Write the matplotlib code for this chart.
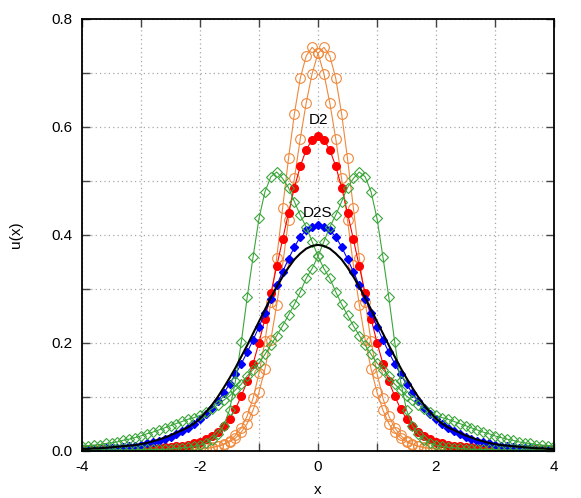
import numpy as np
import matplotlib
matplotlib.use("Agg")
import matplotlib.pyplot as plt

plt.rcParams["font.family"] = ["Liberation Sans", "DejaVu Sans"]

# sample grid, x = -4.0 ... 4.0 in steps of 0.1
x = np.round(np.arange(-40, 41) / 10.0, 1)

exact = [
    0.003, 0.003, 0.004, 0.004, 0.005, 0.006, 0.007, 0.008, 0.009, 0.010,
    0.012, 0.014, 0.017, 0.020, 0.024, 0.028, 0.033, 0.038, 0.043, 0.050,
    0.059, 0.071, 0.084, 0.099, 0.116, 0.134, 0.153, 0.174, 0.195, 0.217,
    0.239, 0.261, 0.283, 0.303, 0.322, 0.339, 0.354, 0.365, 0.374, 0.379,
    0.381,
    0.379, 0.374, 0.365, 0.354, 0.339, 0.322, 0.303, 0.283, 0.261, 0.239,
    0.217, 0.195, 0.174, 0.153, 0.134, 0.116, 0.099, 0.084, 0.071, 0.059,
    0.050, 0.043, 0.038, 0.033, 0.028, 0.024, 0.020, 0.017, 0.014, 0.012,
    0.010, 0.009, 0.008, 0.007, 0.006, 0.005, 0.004, 0.004, 0.003, 0.003,
]

d2s = [
    0.002, 0.002, 0.003, 0.003, 0.004, 0.004, 0.005, 0.006, 0.008, 0.009,
    0.011, 0.013, 0.015, 0.018, 0.021, 0.025, 0.030, 0.036, 0.042, 0.049,
    0.058, 0.068, 0.079, 0.092, 0.106, 0.123, 0.141, 0.161, 0.182, 0.205,
    0.229, 0.255, 0.281, 0.306, 0.331, 0.355, 0.377, 0.396, 0.408, 0.415,
    0.418,
    0.415, 0.408, 0.396, 0.377, 0.355, 0.331, 0.306, 0.281, 0.255, 0.229,
    0.205, 0.182, 0.161, 0.141, 0.123, 0.106, 0.092, 0.079, 0.068, 0.058,
    0.049, 0.042, 0.036, 0.030, 0.025, 0.021, 0.018, 0.015, 0.013, 0.011,
    0.009, 0.008, 0.006, 0.005, 0.004, 0.004, 0.003, 0.003, 0.002, 0.002,
]

d2 = [
    0.002, 0.002, 0.002, 0.002, 0.002, 0.002, 0.003, 0.003, 0.003, 0.003,
    0.004, 0.004, 0.005, 0.005, 0.006, 0.007, 0.008, 0.009, 0.011, 0.013,
    0.016, 0.021, 0.027, 0.035, 0.045, 0.059, 0.077, 0.101, 0.128, 0.161,
    0.200, 0.244, 0.291, 0.341, 0.391, 0.440, 0.487, 0.527, 0.557, 0.576,
    0.582,
    0.576, 0.557, 0.527, 0.487, 0.440, 0.391, 0.341, 0.291, 0.244, 0.200,
    0.161, 0.128, 0.101, 0.077, 0.059, 0.045, 0.035, 0.027, 0.021, 0.016,
    0.013, 0.011, 0.009, 0.008, 0.007, 0.006, 0.005, 0.005, 0.004, 0.004,
    0.003, 0.003, 0.003, 0.003, 0.002, 0.002, 0.002, 0.002, 0.002, 0.002,
]

# orange open circles: two runs, peak just right / just left of 0
orange_r = [
    0.001, 0.001, 0.001, 0.001, 0.001, 0.001, 0.001, 0.001, 0.001, 0.001,
    0.001, 0.001, 0.001, 0.001, 0.001, 0.002, 0.002, 0.002, 0.002, 0.002,
    0.003, 0.004, 0.006, 0.008, 0.011, 0.016, 0.023, 0.034, 0.050, 0.075,
    0.108, 0.151, 0.205, 0.270, 0.343, 0.427, 0.504, 0.578, 0.644, 0.698,
    0.736,
    0.747, 0.731, 0.690, 0.624, 0.541, 0.449, 0.357, 0.275, 0.202, 0.143,
    0.097, 0.064, 0.042, 0.028, 0.018, 0.012, 0.008, 0.005, 0.004, 0.003,
    0.002, 0.002, 0.002, 0.002, 0.002, 0.001, 0.001, 0.001, 0.001, 0.001,
    0.001, 0.001, 0.001, 0.001, 0.001, 0.001, 0.001, 0.001, 0.001, 0.001,
]
orange_l = [
    0.001, 0.001, 0.001, 0.001, 0.001, 0.001, 0.001, 0.001, 0.001, 0.001,
    0.001, 0.001, 0.001, 0.001, 0.001, 0.002, 0.002, 0.002, 0.002, 0.002,
    0.003, 0.004, 0.005, 0.008, 0.012, 0.018, 0.028, 0.042, 0.064, 0.097,
    0.143, 0.202, 0.275, 0.357, 0.449, 0.541, 0.624, 0.690, 0.731, 0.747,
    0.736,
    0.698, 0.644, 0.578, 0.504, 0.427, 0.343, 0.270, 0.205, 0.151, 0.108,
    0.075, 0.050, 0.034, 0.023, 0.016, 0.011, 0.008, 0.006, 0.004, 0.003,
    0.002, 0.002, 0.002, 0.002, 0.002, 0.001, 0.001, 0.001, 0.001, 0.001,
    0.001, 0.001, 0.001, 0.001, 0.001, 0.001, 0.001, 0.001, 0.001, 0.001,
]

# green open diamonds: two runs, peaks near +0.7 and -0.7
green_r = [
    0.008, 0.009, 0.010, 0.011, 0.013, 0.014, 0.016, 0.019, 0.021, 0.024,
    0.027, 0.031, 0.034, 0.038, 0.042, 0.046, 0.050, 0.054, 0.058, 0.061,
    0.065, 0.071, 0.077, 0.085, 0.093, 0.101, 0.112, 0.123, 0.138, 0.150,
    0.162, 0.178, 0.195, 0.213, 0.231, 0.251, 0.271, 0.294, 0.319, 0.337,
    0.360,
    0.387, 0.414, 0.436, 0.461, 0.487, 0.504, 0.516, 0.507, 0.479, 0.430,
    0.359, 0.284, 0.201, 0.128, 0.075, 0.046, 0.030, 0.020, 0.014, 0.010,
    0.008, 0.006, 0.005, 0.004, 0.003, 0.002, 0.002, 0.002, 0.002, 0.002,
    0.001, 0.001, 0.001, 0.001, 0.001, 0.001, 0.001, 0.001, 0.001, 0.001,
]
green_l = [
    0.001, 0.001, 0.001, 0.001, 0.001, 0.001, 0.001, 0.001, 0.001, 0.001,
    0.002, 0.002, 0.002, 0.002, 0.002, 0.003, 0.004, 0.005, 0.006, 0.008,
    0.010, 0.014, 0.020, 0.030, 0.046, 0.075, 0.128, 0.201, 0.284, 0.359,
    0.430, 0.479, 0.507, 0.516, 0.504, 0.487, 0.461, 0.436, 0.414, 0.387,
    0.360,
    0.337, 0.319, 0.294, 0.271, 0.251, 0.231, 0.213, 0.195, 0.178, 0.162,
    0.150, 0.138, 0.123, 0.112, 0.101, 0.093, 0.085, 0.077, 0.071, 0.065,
    0.061, 0.058, 0.054, 0.050, 0.046, 0.042, 0.038, 0.034, 0.031, 0.027,
    0.024, 0.021, 0.019, 0.016, 0.014, 0.013, 0.011, 0.010, 0.009, 0.008,
]

xtick_pos = [-4, -3, -2, -1, 0, 1, 2, 3, 4]
xtick_lab = ["-4", "", "-2", "", "0", "", "2", "", "4"]
ytick_pos = [0.0, 0.1, 0.2, 0.3, 0.4, 0.5, 0.6, 0.7, 0.8]
ytick_lab = ["0.0", "", "0.2", "", "0.4", "", "0.6", "", "0.8"]

ORANGE = "#f0883a"
GREEN = "#3aa63a"

fig = plt.figure(figsize=(5.81, 4.98), dpi=100)
ax = fig.add_axes([82 / 581, 1 - 450.5 / 498, 472 / 581, 431.8 / 498])

for ys in (orange_r, orange_l):
    ax.plot(x, ys, "-o", color=ORANGE, lw=0.8, ms=7, mfc="none", mec=ORANGE, mew=0.8)
ax.plot(x, d2, "-o", color="#ff0000", lw=0.8, ms=5.5, mec="#ff0000")
ax.plot(x, d2s, "-D", color="#0000ff", lw=0.8, ms=4.2, mec="#0000ff")
for ys in (green_r, green_l):
    ax.plot(x, ys, "-D", color=GREEN, lw=0.8, ms=4.6, mfc="none", mec=GREEN, mew=0.8)
ax.plot(x, exact, "-", color="black", lw=1.5)

ax.text(0, 0.612, "D2", ha="center", va="center", fontsize=11)
ax.text(0, 0.44, "D2S", ha="center", va="center", fontsize=11)

ax.set_xlim(-4, 4)
ax.set_ylim(0, 0.8)
ax.set_xticks(xtick_pos)
ax.set_xticklabels(xtick_lab)
ax.set_yticks(ytick_pos)
ax.set_yticklabels(ytick_lab)
ax.tick_params(direction="in", top=True, right=True, length=6, width=1,
               color="#444444", labelsize=11, pad=7)
ax.grid(True, color="#a8a8a8", linestyle=(0, (1, 2.5)), linewidth=0.9)
for sp in ax.spines.values():
    sp.set_linewidth(1.3)

ax.set_xlabel("x", fontsize=11)
ax.set_ylabel("u(x)", fontsize=11)
ax.xaxis.set_label_coords(0.5, -0.075)
ax.yaxis.set_label_coords(-0.125, 0.5)

fig.savefig("out.png", dpi=100)
